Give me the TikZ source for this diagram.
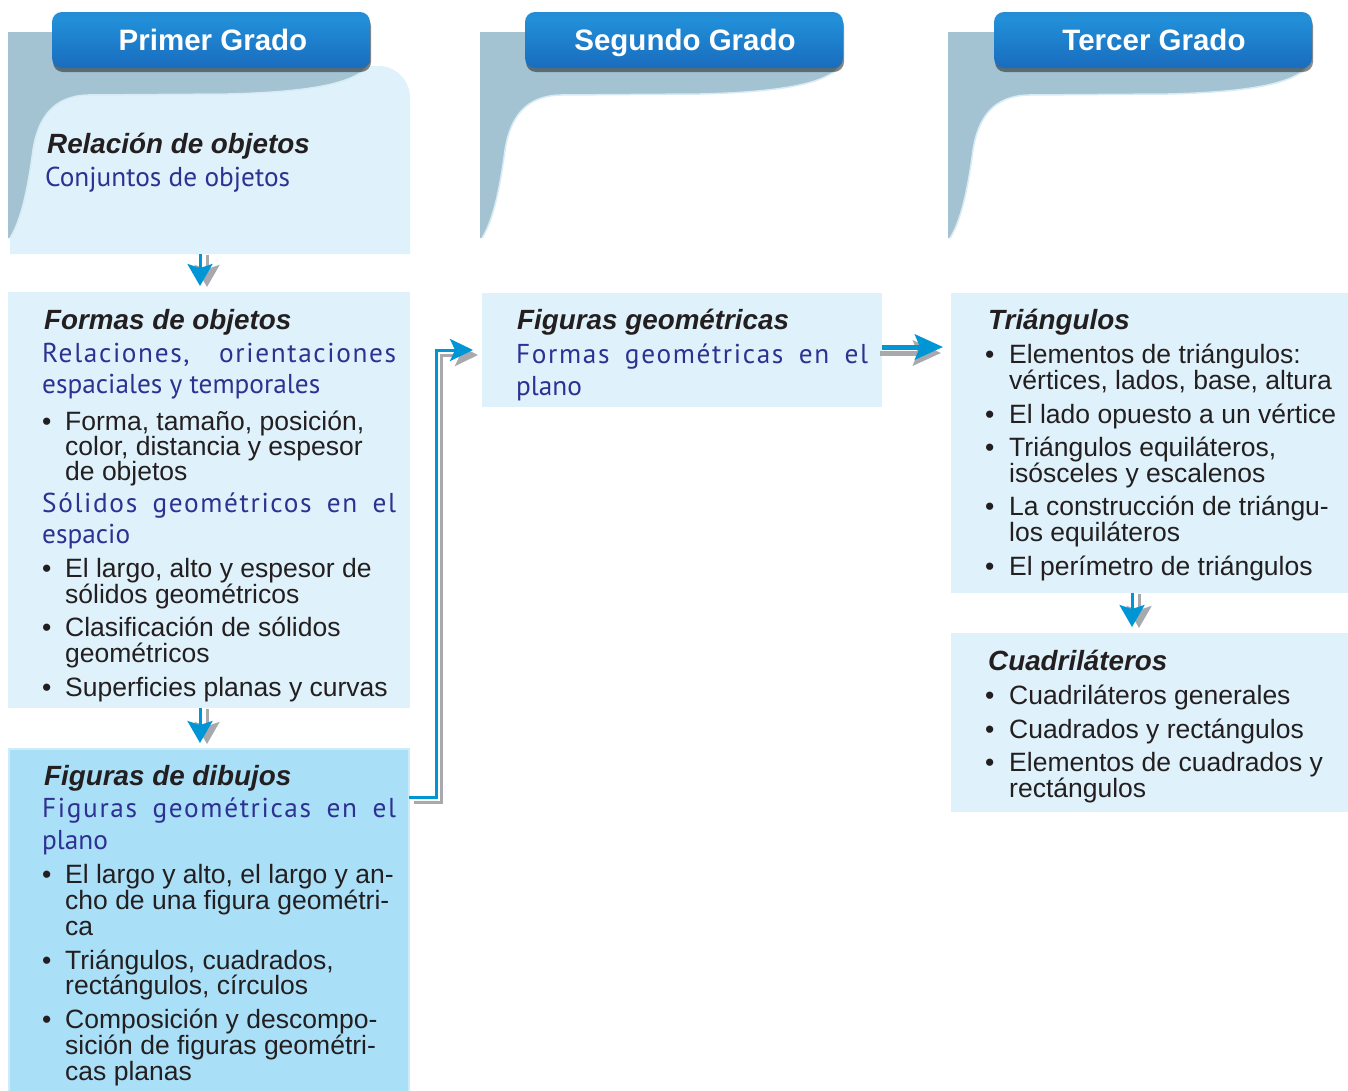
\documentclass[tikz,border=0pt]{standalone}
\usepackage{fontspec}
\setmainfont{Liberation Sans}
\newfontfamily\bluefnt{PT Sans}
\usetikzlibrary{arrows.meta,shadows}
\definecolor{panelc}{HTML}{DFF1FA}
\definecolor{panelh}{HTML}{AADFF8}
\definecolor{panelhb}{HTML}{CDECFA}
\definecolor{tabc}{HTML}{A3C3D2}
\definecolor{tabedge}{HTML}{D8EAF2}
\definecolor{headc}{HTML}{231F20}
\definecolor{bluec}{HTML}{2E3192}
\definecolor{arrb}{HTML}{0096D6}
\definecolor{arrg}{HTML}{A7A9AC}
\definecolor{bnA}{HTML}{4A72BE}
\definecolor{bnB}{HTML}{1A5FB0}
\definecolor{bnC}{HTML}{1B74C4}
\definecolor{bnD}{HTML}{2290D8}
\definecolor{bnE}{HTML}{2A7FCC}
\definecolor{bnF}{HTML}{8AA4DC}
\definecolor{bnG}{HTML}{B4C6EA}
\pgfdeclareverticalshading{bannershade}{100bp}{color(0bp)=(bnA); color(8bp)=(bnB); color(35bp)=(bnC); color(70bp)=(bnD); color(87bp)=(bnE); color(94bp)=(bnF); color(100bp)=(bnG)}
\newcommand\hfnt{\fontsize{27.8}{30}\selectfont\bfseries\itshape}
\newcommand\tfnt{\fontsize{26.5}{26}\selectfont}
\newcommand\bfnt{\bluefnt\fontsize{27.3}{30}\selectfont}
\newcommand\bnfnt{\fontsize{29.5}{32}\selectfont\bfseries}
\newcommand\jl[2]{\makebox[#1pt][s]{\addfontfeature{LetterSpace=6}#2}}
\begin{document}
\begin{tikzpicture}[x=1pt,y=-1pt,
  panel/.style={fill=panelc, draw=none, inner sep=0pt, outer sep=0pt, anchor=north west},
  hipanel/.style={fill=panelh, draw=panelhb, line width=2pt, inner sep=0pt, outer sep=0pt, anchor=north west},
  ghost/.style={draw=none, inner sep=0pt, outer sep=0pt, anchor=north west},
  hd/.style={anchor=base west, inner sep=0pt, font=\hfnt, text=headc},
  bl/.style={anchor=base west, inner sep=0pt, font=\bfnt, text=bluec},
  tx/.style={anchor=base west, inner sep=0pt, font=\tfnt, text=headc},
  banner/.style={rounded corners=10pt, shading=bannershade, minimum width=318pt, minimum height=56pt, inner sep=0pt,
     drop shadow={shadow xshift=1pt, shadow yshift=-4pt, opacity=0.45, fill=black}},
  bantext/.style={anchor=base, inner sep=0pt, font=\bnfnt, text=white},
  tabfill/.style={fill=tabc},
  tabline/.style={draw=tabedge, line width=1.5pt},
  downb/.style={draw=arrb, line width=3pt, -{Stealth[length=22pt,width=25pt,inset=4pt]}, shorten >=6pt},
  downg/.style={draw=arrg, line width=3pt, -{Stealth[length=22pt,width=25pt,inset=4pt]}, shorten >=6pt, transform canvas={xshift=7pt,yshift=-1pt}},
  elbowb/.style={draw=arrb, line width=3pt, -{Stealth[length=23pt,width=22pt,inset=5pt]}, shorten >=9pt},
  elbowg/.style={draw=arrg, line width=3pt, -{Stealth[length=23pt,width=22pt,inset=5pt]}, shorten >=9pt, transform canvas={xshift=5pt,yshift=-5pt}},
  bigb/.style={draw=arrb, line width=5pt, -{Stealth[length=28pt,width=25pt,inset=5pt]}, shorten >=8pt},
  bigg/.style={draw=arrg, line width=5pt, -{Stealth[length=28pt,width=25pt,inset=5pt]}, shorten >=8pt, transform canvas={xshift=-2pt,yshift=-6pt}}
]
\useasboundingbox (0,0) rectangle (1348,1090);
\fill[white] (0,0) rectangle (1348,1090);

% ---- light panel of first column
\fill[panelc] (10,66) -- (378,66) .. controls (396,66) and (410,80) .. (410,98) -- (410,254) -- (10,254) -- cycle;
\node[ghost, minimum width=400pt, minimum height=188pt] (A) at (10,66) {};

% ---- tab shapes
\foreach \L in {8,480,948}{
  \begin{scope}[shift={(\L,0)}]
    \fill[tabfill] (0,32) -- (362,32) -- (362,64) .. controls (348,84) and (300,92) .. (220,94) -- (80,95)
      .. controls (45,96) and (30,118) .. (25,150) .. controls (19,195) and (12,222) .. (2,238) -- (0,238) -- cycle;
    \draw[tabline] (362,64) .. controls (348,84) and (300,92) .. (220,94) -- (80,95)
      .. controls (45,96) and (30,118) .. (25,150) .. controls (19,195) and (12,222) .. (2,238);
  \end{scope}
}

% ---- banners
\node[banner] (h1) at (211,40) {};
\node[banner] (h2) at (684,40) {};
\node[banner] (h3) at (1153,40) {};
\node[bantext] (h1t) at (213,50) {Primer Grado};
\node[bantext] (h2t) at (685,50) {Segundo Grado};
\node[bantext] (h3t) at (1154,50) {Tercer Grado};

% ---- boxes
\node[panel, minimum width=402pt, minimum height=416pt] (B) at (8,292) {};
\node[hipanel, minimum width=400pt, minimum height=346pt] (C) at (9,749) {};
\node[panel, minimum width=400pt, minimum height=114pt] (D) at (482,293) {};
\node[panel, minimum width=397pt, minimum height=300pt] (E) at (951,293) {};
\node[panel, minimum width=397pt, minimum height=179pt] (F) at (951,633) {};

% ---- column 1, box A
\node[hd] (a1) at (47,153) {Relación de objetos};
\node[bl] (a2) at (45,186) {Conjuntos de objetos};

% ---- box B
\node[hd] (b1) at (44,329) {Formas de objetos};
\node[bl] (b2) at (42,362) {\jl{354}{Relaciones, orientaciones}};
\node[bl] (b3) at (42,393) {espaciales y temporales};
\node[tx] (b4) at (42,430) {•};
\node[tx] (b5) at (65,430) {Forma, tamaño, posición,};
\node[tx] (b6) at (65,455) {color, distancia y espesor};
\node[tx] (b7) at (65,480) {de objetos};
\node[bl] (b8) at (42,512) {\jl{354}{Sólidos geométricos en el}};
\node[bl] (b9) at (42,543) {espacio};
\node[tx] (b10) at (42,577) {•};
\node[tx] (b11) at (65,577) {El largo, alto y espesor de};
\node[tx] (b12) at (65,603) {sólidos geométricos};
\node[tx] (b13) at (42,636) {•};
\node[tx] (b14) at (65,636) {Clasificación de sólidos};
\node[tx] (b15) at (65,662) {geométricos};
\node[tx] (b16) at (42,696) {•};
\node[tx] (b17) at (65,696) {Superficies planas y curvas};

% ---- box C
\node[hd] (c1) at (44,785) {Figuras de dibujos};
\node[bl] (c2) at (42,817) {\jl{354}{Figuras geométricas en el}};
\node[bl] (c3) at (42,849) {plano};
\node[tx] (c4) at (42,883) {•};
\node[tx] (c5) at (65,883) {El largo y alto, el largo y an-};
\node[tx] (c6) at (65,909) {cho de una figura geométri-};
\node[tx] (c7) at (65,935) {ca};
\node[tx] (c8) at (42,969) {•};
\node[tx] (c9) at (65,969) {Triángulos, cuadrados,};
\node[tx] (c10) at (65,994) {rectángulos, círculos};
\node[tx] (c11) at (42,1028) {•};
\node[tx] (c12) at (65,1028) {Composición y descompo-};
\node[tx] (c13) at (65,1054) {sición de figuras geométri-};
\node[tx] (c14) at (65,1080) {cas planas};

% ---- box D
\node[hd] (d1) at (517,329) {Figuras geométricas};
\node[bl] (d2) at (516,363) {\jl{352}{Formas geométricas en el}};
\node[bl] (d3) at (516,395) {plano};

% ---- box E
\node[hd] (e1) at (988,329) {Triángulos};
\node[tx] (e2) at (985,363) {•};
\node[tx] (e3) at (1009,363) {Elementos de triángulos:};
\node[tx] (e4) at (1009,389) {vértices, lados, base, altura};
\node[tx] (e5) at (985,423) {•};
\node[tx] (e6) at (1009,423) {El lado opuesto a un vértice};
\node[tx] (e7) at (985,456) {•};
\node[tx] (e8) at (1009,456) {Triángulos equiláteros,};
\node[tx] (e9) at (1009,482) {isósceles y escalenos};
\node[tx] (e10) at (985,515) {•};
\node[tx] (e11) at (1009,515) {La construcción de triángu-};
\node[tx] (e12) at (1009,541) {los equiláteros};
\node[tx] (e13) at (985,575) {•};
\node[tx] (e14) at (1009,575) {El perímetro de triángulos};

% ---- box F
\node[hd] (f1) at (988,670) {Cuadriláteros};
\node[tx] (f2) at (985,704) {•};
\node[tx] (f3) at (1009,704) {Cuadriláteros generales};
\node[tx] (f4) at (985,738) {•};
\node[tx] (f5) at (1009,738) {Cuadrados y rectángulos};
\node[tx] (f6) at (985,771) {•};
\node[tx] (f7) at (1009,771) {Elementos de cuadrados y};
\node[tx] (f8) at (1009,797) {rectángulos};

% ---- connector guides
\coordinate (gx1) at (200,0);
\coordinate (gx2) at (1132,0);
\coordinate (gx3) at (436,0);
\coordinate (gy1) at (0,797);
\coordinate (gy2) at (0,350);
\coordinate (gy3) at (0,347);

% ---- connectors
\draw[downg] (A.south -| gx1) -- (B.north -| gx1);
\draw[downb] (A.south -| gx1) -- (B.north -| gx1);
\draw[downg] (B.south -| gx1) -- (C.north -| gx1);
\draw[downb] (B.south -| gx1) -- (C.north -| gx1);
\draw[downg] (E.south -| gx2) -- (F.north -| gx2);
\draw[downb] (E.south -| gx2) -- (F.north -| gx2);
\draw[elbowg] (C.east |- gy1) -- (gx3 |- gy1) -- (gx3 |- gy2) -- (D.west |- gy2);
\draw[elbowb] (C.east |- gy1) -- (gx3 |- gy1) -- (gx3 |- gy2) -- (D.west |- gy2);
\draw[bigg] (D.east |- gy3) -- (E.west |- gy3);
\draw[bigb] (D.east |- gy3) -- (E.west |- gy3);
\end{tikzpicture}
\end{document}
